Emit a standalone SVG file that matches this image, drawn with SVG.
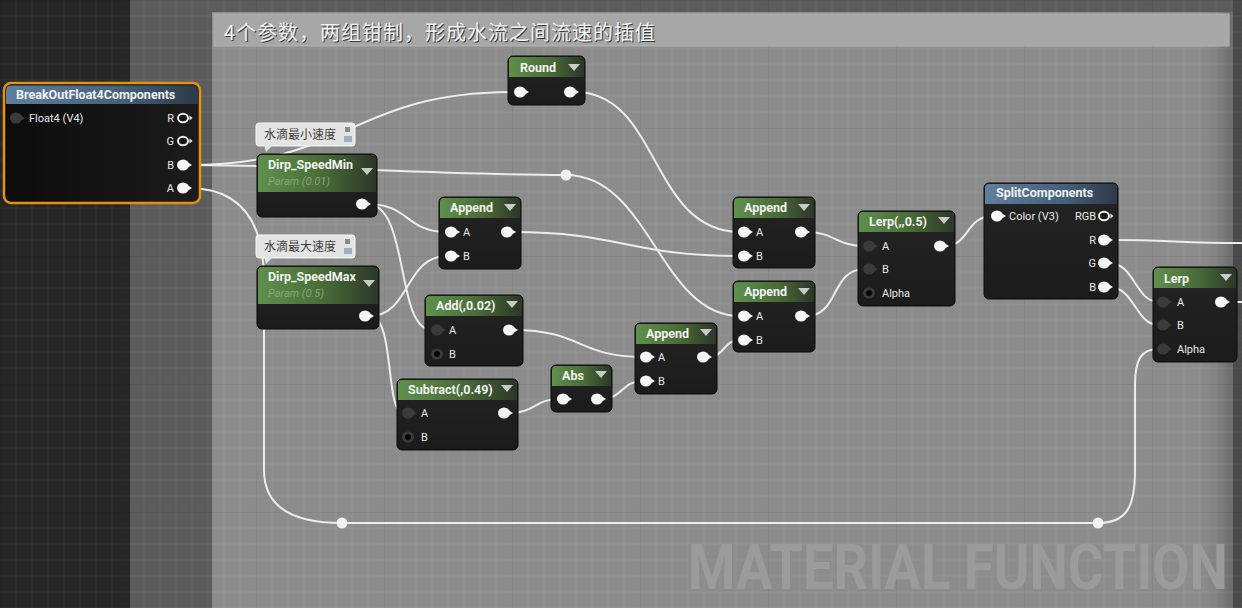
<svg xmlns="http://www.w3.org/2000/svg" width="1242" height="608" viewBox="0 0 1242 608">
<style>
.t{font-family:Roboto,"Liberation Sans",sans-serif;font-weight:bold;font-size:12.5px;fill:#f2f2f2}
.l{font-family:Roboto,"Liberation Sans",sans-serif;font-size:11px;fill:#e8e8e8}
.s{font-family:Roboto,"Liberation Sans",sans-serif;font-style:italic;font-size:11px;fill:#86a672}
.n{font-family:"Noto Sans CJK SC","Noto Sans",sans-serif;font-size:12px;fill:#3c3c3c}
.w{fill:none;stroke:#ececec;stroke-width:2}
.body{fill:url(#gBody);stroke:#0b0b0b;stroke-width:1}
.hg{fill:url(#gGreen)}
.hb{fill:url(#gBlue)}
.tri{fill:#c9c9c9}
</style>
<defs>
<linearGradient id="gBody" x1="0" y1="0" x2="0" y2="1"><stop offset="0" stop-color="#242424"/><stop offset="1" stop-color="#1b1b1b"/></linearGradient>
<linearGradient id="gGreen" x1="0" y1="0" x2="1" y2="0"><stop offset="0" stop-color="#5f904c"/><stop offset="0.55" stop-color="#486b37"/><stop offset="1" stop-color="#2c3728"/></linearGradient>
<linearGradient id="gBlue" x1="0" y1="0" x2="1" y2="0"><stop offset="0" stop-color="#5f7f9c"/><stop offset="0.6" stop-color="#45607a"/><stop offset="1" stop-color="#2c3a48"/></linearGradient>
<linearGradient id="gBreak" x1="0" y1="0" x2="1" y2="0"><stop offset="0" stop-color="#0c0c0c"/><stop offset="1" stop-color="#1c1c1c"/></linearGradient>
<linearGradient id="gEdge" x1="0" y1="0" x2="1" y2="0"><stop offset="0" stop-color="#8c8c8c" stop-opacity="0"/><stop offset="1" stop-color="#6a6a6a"/></linearGradient>
<pattern id="grid" width="128" height="128" patternUnits="userSpaceOnUse">
<path d="M16,0V128M32,0V128M48,0V128M64,0V128M80,0V128M96,0V128M112,0V128M0,16H128M0,32H128M0,48H128M0,64H128M0,80H128M0,96H128M0,112H128" stroke="#ffffff" stroke-opacity="0.045" stroke-width="1"/>
<path d="M0.5,0V128M0,0.5H128" stroke="#000" stroke-opacity="0.06" stroke-width="1"/>
</pattern>
<g id="pOn"><ellipse rx="6" ry="5.5" fill="#f4f4f4"/><path d="M5,-2.5L9,0L5,2.5Z" fill="#f4f4f4"/></g>
<g id="pRing"><ellipse rx="5" ry="4.3" fill="#151515" stroke="#eeeeee" stroke-width="2"/><path d="M6.5,-2.5L9.5,0L6.5,2.5Z" fill="#eeeeee"/></g>
<g id="pDim"><ellipse rx="6" ry="5.5" fill="#3b3b3b"/><path d="M5,-2.5L9,0L5,2.5Z" fill="#3b3b3b"/></g>
<g id="pDef"><ellipse rx="6" ry="5.5" fill="#3b3b3b"/><circle r="3" fill="#060606"/></g>
</defs>

<!-- background -->
<g id="background">
<rect x="0" y="0" width="130" height="608" fill="#262626"/>
<rect x="130" y="0" width="1112" height="608" fill="#5c5c5c"/>
<rect x="212" y="12" width="1021" height="596" fill="#8c8c8c"/>
<rect x="1195" y="12" width="38" height="596" fill="url(#gEdge)"/>
<rect x="1233" y="0" width="9" height="608" fill="#4a4a4a"/>
<rect x="0" y="0" width="1242" height="608" fill="url(#grid)"/>
<rect x="214" y="14" width="1015" height="32" fill="#a7a7a7" stroke="#b4b4b4" stroke-width="1"/>
<text x="225" y="41" font-family="'Noto Sans CJK SC','Noto Sans',sans-serif" font-size="20" fill="#3a3a3a" textLength="431">4个参数，两组钳制，形成水流之间流速的插值</text>
<text x="224" y="40" font-family="'Noto Sans CJK SC','Noto Sans',sans-serif" font-size="20" fill="#f4f4f4" textLength="431">4个参数，两组钳制，形成水流之间流速的插值</text>
<text transform="translate(688,589) scale(0.875,1)" x="0" y="0" font-family="Roboto,'Liberation Sans',sans-serif" font-weight="bold" font-size="63" fill="#9b9b9b" textLength="617" lengthAdjust="spacingAndGlyphs">MATERIAL FUNCTION</text>
</g>

<!-- connectors -->
<g id="connectors">
<path class="w" d="M188,165 C350,165 350,92 515,92"/>
<path class="w" d="M188,165 C300,165 450,175 566,175"/>
<path class="w" d="M566,175 C650,175 660,316 740,316"/>
<path class="w" d="M575,92 C660,92 650,232 740,232"/>
<path class="w" d="M512,232 C620,232 630,256 740,256"/>
<path class="w" d="M367,204 C410,204 405,232 447,232"/>
<path class="w" d="M367,204 C410,204 395,330 432,330"/>
<path class="w" d="M370,316 C410,316 405,256 447,256"/>
<path class="w" d="M370,316 C395,316 385,413 403,413"/>
<path class="w" d="M514,330 C580,330 580,357 642,357"/>
<path class="w" d="M509,413 C535,413 535,399 559,399"/>
<path class="w" d="M602,399 C622,399 622,381 642,381"/>
<path class="w" d="M708,357 C725,357 723,340 740,340"/>
<path class="w" d="M806,232 C835,232 835,246 865,246"/>
<path class="w" d="M806,316 C840,316 830,269 865,269"/>
<path class="w" d="M945,246 C970,246 965,216 993,216"/>
<path class="w" d="M1109,240 C1170,240 1180,243 1242,243"/>
<path class="w" d="M1109,263 C1135,263 1135,302 1159,302"/>
<path class="w" d="M1109,287 C1135,287 1135,325 1159,325"/>
<path class="w" d="M1226,302 L1242,302"/>
<path class="w" d="M188,188 C240,188 264,220 264,280 L264,470 C264,505 290,523 342,523"/>
<path class="w" d="M342,523 L1098,523"/>
<path class="w" d="M1098,523 C1128,523 1135,505 1135,470 L1135,385 C1135,358 1142,349 1159,349"/>
<circle cx="566" cy="175" r="5.5" fill="#f2f2f2"/>
<circle cx="342" cy="523" r="5.5" fill="#f2f2f2"/>
<circle cx="1098" cy="523" r="5.5" fill="#f2f2f2"/>
</g>

<!-- BreakOutFloat4Components -->
<g id="breakout" transform="translate(4,83)">
<rect x="0" y="0" width="196" height="120" rx="7" fill="url(#gBreak)" stroke="#e6920e" stroke-width="2.5"/>
<path d="M2,21 V7 Q2,2.5 7,2.5 H189 Q194,2.5 194,7 V21 Z" class="hb"/>
<text class="t" x="12" y="16">BreakOutFloat4Components</text>
<use href="#pDim" x="12" y="35"/><text class="l" x="25" y="39">Float4 (V4)</text>
<text class="l" x="170" y="39" text-anchor="end">R</text><use href="#pRing" x="179" y="35"/>
<text class="l" x="170" y="62" text-anchor="end">G</text><use href="#pRing" x="179" y="58"/>
<text class="l" x="170" y="86" text-anchor="end">B</text><use href="#pOn" x="179" y="82"/>
<text class="l" x="170" y="109" text-anchor="end">A</text><use href="#pOn" x="179" y="105"/>
</g>

<!-- notes -->
<g id="noteMin" transform="translate(256,123)">
<rect x="0" y="0" width="99" height="23" rx="3" fill="#e4e4e4" stroke="#f6f6f6"/>
<path d="M8,22 L17,22 L10,29 Z" fill="#e4e4e4"/>
<text class="n" x="8" y="16">水滴最小速度</text>
<rect x="89" y="4" width="5" height="5" fill="#8a8a8a"/>
<rect x="88" y="13" width="8" height="6" fill="#9db0c4"/>
</g>
<g id="noteMax" transform="translate(256,235)">
<rect x="0" y="0" width="99" height="23" rx="3" fill="#e4e4e4" stroke="#f6f6f6"/>
<path d="M8,22 L17,22 L10,29 Z" fill="#e4e4e4"/>
<text class="n" x="8" y="16">水滴最大速度</text>
<rect x="89" y="4" width="5" height="5" fill="#8a8a8a"/>
<rect x="88" y="13" width="8" height="6" fill="#9db0c4"/>
</g>

<!-- Dirp_SpeedMin -->
<g id="speedMin" transform="translate(257,154)">
<rect class="body" x="0" y="0" width="120" height="63" rx="5"/>
<path class="hg" d="M1,38 V5 Q1,1 5,1 H115 Q119,1 119,5 V38 Z"/>
<text class="t" x="11" y="15">Dirp_SpeedMin</text>
<text class="s" x="11" y="31">Param (0.01)</text>
<path class="tri" d="M104,14 H116 L110,21 Z"/>
<use href="#pOn" x="105" y="50"/>
</g>

<!-- Dirp_SpeedMax -->
<g id="speedMax" transform="translate(257,266)">
<rect class="body" x="0" y="0" width="122" height="63" rx="5"/>
<path class="hg" d="M1,38 V5 Q1,1 5,1 H117 Q121,1 121,5 V38 Z"/>
<text class="t" x="11" y="15">Dirp_SpeedMax</text>
<text class="s" x="11" y="31">Param (0.5)</text>
<path class="tri" d="M106,14 H118 L112,21 Z"/>
<use href="#pOn" x="108" y="50"/>
</g>

<!-- Round -->
<g id="round" transform="translate(508,56)">
<rect class="body" x="0" y="0" width="77" height="49" rx="5"/>
<path class="hg" d="M1,21 V5 Q1,1 5,1 H72 Q76,1 76,5 V21 Z"/>
<text class="t" x="12" y="16">Round</text>
<path class="tri" d="M60,8 H72 L66,15 Z"/>
<use href="#pOn" x="12" y="36"/>
<use href="#pOn" x="62" y="36"/>
</g>

<!-- Append (middle) -->
<g id="appendMid" transform="translate(439,197)">
<rect class="body" x="0" y="0" width="82" height="72" rx="5"/>
<path class="hg" d="M1,21 V5 Q1,1 5,1 H77 Q81,1 81,5 V21 Z"/>
<text class="t" x="11" y="15">Append</text>
<path class="tri" d="M65,7 H77 L71,14 Z"/>
<use href="#pOn" x="12" y="35"/><text class="l" x="24" y="39">A</text>
<use href="#pOn" x="68" y="35"/>
<use href="#pOn" x="12" y="59"/><text class="l" x="24" y="63">B</text>
</g>

<!-- Add -->
<g id="add" transform="translate(425,295)">
<rect class="body" x="0" y="0" width="98" height="71" rx="5"/>
<path class="hg" d="M1,21 V5 Q1,1 5,1 H93 Q97,1 97,5 V21 Z"/>
<text class="t" x="11" y="15">Add(,0.02)</text>
<path class="tri" d="M81,6 H93 L87,13 Z"/>
<use href="#pDim" x="12" y="35"/><text class="l" x="24" y="39">A</text>
<use href="#pOn" x="84" y="35"/>
<use href="#pDef" x="12" y="59"/><text class="l" x="24" y="63">B</text>
</g>

<!-- Subtract -->
<g id="subtract" transform="translate(397,379)">
<rect class="body" x="0" y="0" width="121" height="71" rx="5"/>
<path class="hg" d="M1,21 V5 Q1,1 5,1 H116 Q120,1 120,5 V21 Z"/>
<text class="t" x="11" y="15">Subtract(,0.49)</text>
<path class="tri" d="M104,6 H116 L110,13 Z"/>
<use href="#pDim" x="11" y="34"/><text class="l" x="24" y="38">A</text>
<use href="#pOn" x="107" y="34"/>
<use href="#pDef" x="11" y="58"/><text class="l" x="24" y="62">B</text>
</g>

<!-- Abs -->
<g id="abs" transform="translate(551,365)">
<rect class="body" x="0" y="0" width="61" height="47" rx="5"/>
<path class="hg" d="M1,21 V5 Q1,1 5,1 H56 Q60,1 60,5 V21 Z"/>
<text class="t" x="11" y="15">Abs</text>
<path class="tri" d="M44,6 H56 L50,13 Z"/>
<use href="#pOn" x="12" y="34"/>
<use href="#pOn" x="46" y="34"/>
</g>

<!-- Append (lower middle) -->
<g id="appendLow" transform="translate(635,323)">
<rect class="body" x="0" y="0" width="82" height="71" rx="5"/>
<path class="hg" d="M1,21 V5 Q1,1 5,1 H77 Q81,1 81,5 V21 Z"/>
<text class="t" x="11" y="15">Append</text>
<path class="tri" d="M65,6 H77 L71,13 Z"/>
<use href="#pOn" x="11" y="34"/><text class="l" x="23" y="38">A</text>
<use href="#pOn" x="68" y="34"/>
<use href="#pOn" x="11" y="58"/><text class="l" x="23" y="62">B</text>
</g>

<!-- Append (top right) -->
<g id="append1" transform="translate(733,197)">
<rect class="body" x="0" y="0" width="82" height="71" rx="5"/>
<path class="hg" d="M1,21 V5 Q1,1 5,1 H77 Q81,1 81,5 V21 Z"/>
<text class="t" x="11" y="15">Append</text>
<path class="tri" d="M65,7 H77 L71,14 Z"/>
<use href="#pOn" x="11" y="35"/><text class="l" x="23" y="39">A</text>
<use href="#pOn" x="68" y="35"/>
<use href="#pOn" x="11" y="59"/><text class="l" x="23" y="63">B</text>
</g>

<!-- Append (bottom right) -->
<g id="append2" transform="translate(733,281)">
<rect class="body" x="0" y="0" width="82" height="71" rx="5"/>
<path class="hg" d="M1,21 V5 Q1,1 5,1 H77 Q81,1 81,5 V21 Z"/>
<text class="t" x="11" y="15">Append</text>
<path class="tri" d="M65,7 H77 L71,14 Z"/>
<use href="#pOn" x="11" y="35"/><text class="l" x="23" y="39">A</text>
<use href="#pOn" x="68" y="35"/>
<use href="#pOn" x="11" y="59"/><text class="l" x="23" y="63">B</text>
</g>

<!-- Lerp(,,0.5) -->
<g id="lerpHalf" transform="translate(858,211)">
<rect class="body" x="0" y="0" width="97" height="95" rx="5"/>
<path class="hg" d="M1,21 V5 Q1,1 5,1 H92 Q96,1 96,5 V21 Z"/>
<text class="t" x="11" y="15">Lerp(,,0.5)</text>
<path class="tri" d="M80,6 H92 L86,13 Z"/>
<use href="#pDim" x="11" y="35"/><text class="l" x="24" y="39">A</text>
<use href="#pOn" x="82" y="35"/>
<use href="#pDim" x="11" y="58"/><text class="l" x="24" y="62">B</text>
<use href="#pDef" x="11" y="82"/><text class="l" x="24" y="86">Alpha</text>
</g>

<!-- SplitComponents -->
<g id="split" transform="translate(984,183)">
<rect class="body" x="0" y="0" width="134" height="116" rx="5"/>
<path class="hb" d="M1,21 V5 Q1,1 5,1 H129 Q133,1 133,5 V21 Z"/>
<text class="t" x="12" y="14">SplitComponents</text>
<use href="#pOn" x="13" y="33"/><text class="l" x="25" y="37">Color (V3)</text>
<text class="l" x="112" y="37" text-anchor="end">RGB</text><use href="#pRing" x="120" y="33"/>
<text class="l" x="112" y="61" text-anchor="end">R</text><use href="#pOn" x="120" y="57"/>
<text class="l" x="112" y="84" text-anchor="end">G</text><use href="#pOn" x="120" y="80"/>
<text class="l" x="112" y="108" text-anchor="end">B</text><use href="#pOn" x="120" y="104"/>
</g>

<!-- Lerp -->
<g id="lerp" transform="translate(1153,267)">
<rect class="body" x="0" y="0" width="84" height="95" rx="5"/>
<path class="hg" d="M1,21 V5 Q1,1 5,1 H79 Q83,1 83,5 V21 Z"/>
<text class="t" x="11" y="16">Lerp</text>
<path class="tri" d="M67,7 H79 L73,14 Z"/>
<use href="#pDim" x="10" y="35"/><text class="l" x="24" y="39">A</text>
<use href="#pOn" x="68" y="35"/>
<use href="#pDim" x="10" y="58"/><text class="l" x="24" y="62">B</text>
<use href="#pDim" x="10" y="82"/><text class="l" x="24" y="86">Alpha</text>
</g>
</svg>
